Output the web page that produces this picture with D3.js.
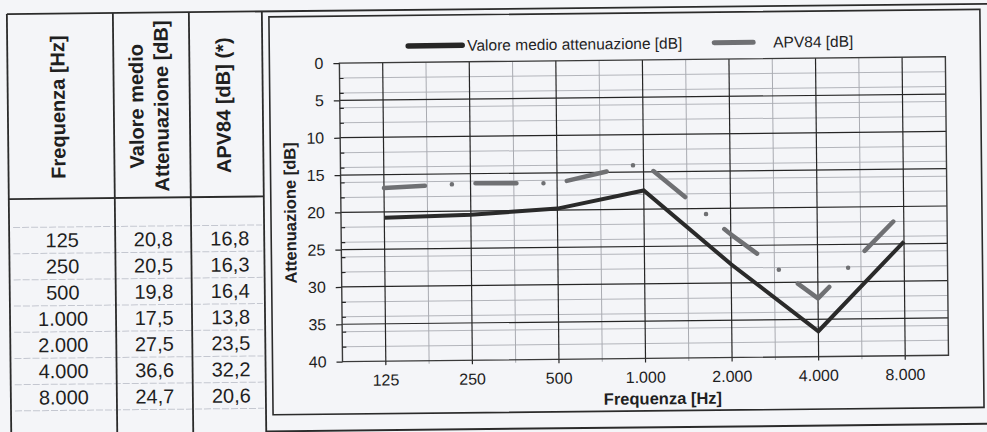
<!DOCTYPE html>
<html>
<head>
<meta charset="utf-8">
<script src="https://cdn.jsdelivr.net/npm/d3@7/dist/d3.min.js"></script>
<style>
  body { margin: 0; background: #f4f5f8; }
  svg { display: block; }
  text { font-family: "Liberation Sans", Arial, sans-serif; fill: #1f1f1f; }
</style>
</head>
<body>
<svg width="987" height="432"></svg>
<script>
var frequenze = [125, 250, 500, 1000, 2000, 4000, 8000];
var valoreMedio = [20.8, 20.5, 19.8, 17.5, 27.5, 36.6, 24.7];
var apv84 = [16.8, 16.3, 16.4, 13.8, 23.5, 32.2, 20.6];
var yTicks = [0, 5, 10, 15, 20, 25, 30, 35, 40];
var yMinor = [2, 4, 6, 8, 12, 14, 16, 18, 22, 24, 26, 28, 32, 34, 36, 38];
var intestazioni = [["Frequenza [Hz]"], ["Valore medio", "Attenuazione [dB]"], ["APV84 [dB] (*)"]];
var legenda = ["Valore medio attenuazione [dB]", "APV84 [dB]"];

var it = d3.formatLocale({ decimal: ",", thousands: ".", grouping: [3], currency: ["", " €"] });
var fmtInt = it.format(",d");
var fmtDec = it.format(".1f");
var freqLabels = frequenze.map(fmtInt);

var svg = d3.select("svg");
// the scan is slightly tilted
var root = svg.append("g").attr("transform", "rotate(-0.6 493 216)");

var ink = "#2b2b2b";

// ---------- table ----------
var colX = [9, 115, 191, 264];
var tTop = 9, headBottom = 194;
var rowTop = 222.5, rowH = 26.2;

var tbl = root.append("g");

// light row separators
tbl.selectAll("line.sep")
  .data(d3.range(0, 8))
  .enter().append("line")
  .attr("x1", colX[0] + 4).attr("x2", colX[3] - 2)
  .attr("y1", function (d) { return rowTop + d * rowH; })
  .attr("y2", function (d) { return rowTop + d * rowH; })
  .attr("stroke", "#c4c7d0")
  .attr("stroke-width", 1)
  .attr("stroke-dasharray", "7,2");

tbl.selectAll("line.col")
  .data(colX)
  .enter().append("line")
  .attr("x1", function (d) { return d; }).attr("x2", function (d) { return d; })
  .attr("y1", tTop).attr("y2", 440)
  .attr("stroke", ink).attr("stroke-width", 1.8);

tbl.append("line")
  .attr("x1", colX[0]).attr("x2", 995)
  .attr("y1", tTop).attr("y2", tTop)
  .attr("stroke", ink).attr("stroke-width", 1.8);

tbl.append("line")
  .attr("x1", colX[0]).attr("x2", colX[3])
  .attr("y1", headBottom).attr("y2", headBottom)
  .attr("stroke", ink).attr("stroke-width", 1.8);

// bottom border of chart cell
tbl.append("line")
  .attr("x1", colX[3]).attr("x2", 995)
  .attr("y1", 429).attr("y2", 429)
  .attr("stroke", ink).attr("stroke-width", 2);

// rotated headers
var headMid = (tTop + headBottom) / 2 + 1;
intestazioni.forEach(function (lines, c) {
  var cx = (colX[c] + colX[c + 1]) / 2 - 3;
  var g = tbl.append("g")
    .attr("transform", "translate(" + cx + "," + headMid + ") rotate(-90)");
  lines.forEach(function (t, i) {
    g.append("text")
      .attr("x", 0)
      .attr("y", (i - (lines.length - 1) / 2) * 25)
      .attr("text-anchor", "middle")
      .attr("dominant-baseline", "central")
      .attr("font-size", 20)
      .attr("font-weight", "bold")
      .text(t);
  });
});

var colonne = [freqLabels, valoreMedio.map(fmtDec), apv84.map(fmtDec)];
colonne.forEach(function (vals, c) {
  var cx = (colX[c] + colX[c + 1]) / 2 + (c === 2 ? 2 : 0);
  tbl.selectAll("text.c" + c)
    .data(vals)
    .enter().append("text")
    .attr("x", cx)
    .attr("y", function (d, i) { return rowTop + rowH / 2 + i * rowH; })
    .attr("text-anchor", "middle")
    .attr("dominant-baseline", "central")
    .attr("font-size", 20)
    .text(function (d) { return d; });
});

// ---------- chart ----------
var chart = root.append("g");

chart.append("rect")
  .attr("x", 271).attr("y", 14.5)
  .attr("width", 711).attr("height", 398)
  .attr("fill", "none")
  .attr("stroke", ink).attr("stroke-width", 1.6);

var margin = { top: 61.5, right: 947, bottom: 360, left: 341 };

var x = d3.scaleBand()
  .domain(freqLabels)
  .range([margin.left, margin.right]);
var bw = x.bandwidth();
function cx(d) { return x(d) + bw / 2; }

var y = d3.scaleLinear()
  .domain([0, 40])
  .range([margin.top, margin.bottom]);

var grid = chart.append("g");

// minor grid
grid.selectAll("line.hmin")
  .data(yMinor)
  .enter().append("line")
  .attr("x1", margin.left).attr("x2", margin.right)
  .attr("y1", function (d) { return y(d); })
  .attr("y2", function (d) { return y(d); })
  .attr("stroke", "#b3b5bb").attr("stroke-width", 1);

grid.selectAll("line.vmin")
  .data(freqLabels.slice(1))
  .enter().append("line")
  .attr("x1", function (d) { return x(d); })
  .attr("x2", function (d) { return x(d); })
  .attr("y1", margin.top).attr("y2", margin.bottom + 3)
  .attr("stroke", "#a9abb1").attr("stroke-width", 1);

// major grid
grid.selectAll("line.hmaj")
  .data(yTicks.slice(1, -1))
  .enter().append("line")
  .attr("x1", margin.left).attr("x2", margin.right)
  .attr("y1", function (d) { return y(d); })
  .attr("y2", function (d) { return y(d); })
  .attr("stroke", "#262626").attr("stroke-width", 1.2);

grid.selectAll("line.vmaj")
  .data(freqLabels)
  .enter().append("line")
  .attr("x1", cx).attr("x2", cx)
  .attr("y1", margin.top).attr("y2", margin.bottom)
  .attr("stroke", "#262626").attr("stroke-width", 1.2);

chart.append("rect")
  .attr("x", margin.left).attr("y", margin.top)
  .attr("width", margin.right - margin.left)
  .attr("height", margin.bottom - margin.top)
  .attr("fill", "none")
  .attr("stroke", "#3a3a3a").attr("stroke-width", 1.4);

// axes
var yAxis = chart.append("g")
  .attr("transform", "translate(" + margin.left + ",0)")
  .call(d3.axisLeft(y).tickValues(yTicks).tickSize(6).tickPadding(10));
yAxis.select(".domain").remove();

var yMinAxis = chart.append("g")
  .attr("transform", "translate(" + margin.left + ",0)")
  .call(d3.axisLeft(y).tickValues(yMinor).tickSize(-4).tickFormat(""));
yMinAxis.select(".domain").remove();

var xAxis = chart.append("g")
  .attr("transform", "translate(0," + margin.bottom + ")")
  .call(d3.axisBottom(x).tickSize(4).tickPadding(9));
xAxis.select(".domain").remove();

[yAxis, yMinAxis, xAxis].forEach(function (a) {
  a.attr("font-family", null).attr("font-size", null);
  a.selectAll("line").attr("stroke", "#262626").attr("stroke-width", 1.2);
  a.selectAll("text").attr("font-size", 16).attr("fill", "#1f1f1f");
});

chart.append("text")
  .attr("transform", "translate(290," + ((margin.top + margin.bottom) / 2) + ") rotate(-90)")
  .attr("text-anchor", "middle")
  .attr("dominant-baseline", "central")
  .attr("font-size", 16.5)
  .attr("font-weight", "bold")
  .text("Attenuazione [dB]");

chart.append("text")
  .attr("x", 661).attr("y", 400)
  .attr("text-anchor", "middle")
  .attr("dominant-baseline", "central")
  .attr("font-size", 16.5)
  .attr("font-weight", "bold")
  .text("Frequenza [Hz]");

// series
var line = d3.line()
  .x(function (d, i) { return cx(freqLabels[i]); })
  .y(function (d) { return y(d); });

chart.append("path")
  .datum(apv84)
  .attr("d", line)
  .attr("fill", "none")
  .attr("stroke", "#6f7073")
  .attr("stroke-width", 4.5)
  .attr("stroke-linecap", "round")
  .attr("stroke-linejoin", "round")
  .attr("stroke-dasharray", "41,27,0,23.6");

chart.append("path")
  .datum(valoreMedio)
  .attr("d", line)
  .attr("fill", "none")
  .attr("stroke", "#2a2a2a")
  .attr("stroke-width", 4)
  .attr("stroke-linejoin", "miter");

// legend
var leg = chart.append("g").attr("transform", "translate(0,45)");
leg.append("line")
  .attr("x1", 410).attr("x2", 464).attr("y1", 0).attr("y2", 0)
  .attr("stroke", "#262626").attr("stroke-width", 5.5).attr("stroke-linecap", "round");
leg.append("text")
  .attr("x", 469).attr("y", 0)
  .attr("dominant-baseline", "central")
  .attr("font-size", 15.5)
  .text(legenda[0]);
leg.append("line")
  .attr("x1", 716).attr("x2", 755).attr("y1", 0).attr("y2", 0)
  .attr("stroke", "#6f7073").attr("stroke-width", 5).attr("stroke-linecap", "round");
leg.append("text")
  .attr("x", 775).attr("y", 0)
  .attr("dominant-baseline", "central")
  .attr("font-size", 15.5)
  .text(legenda[1]);
</script>
</body>
</html>
